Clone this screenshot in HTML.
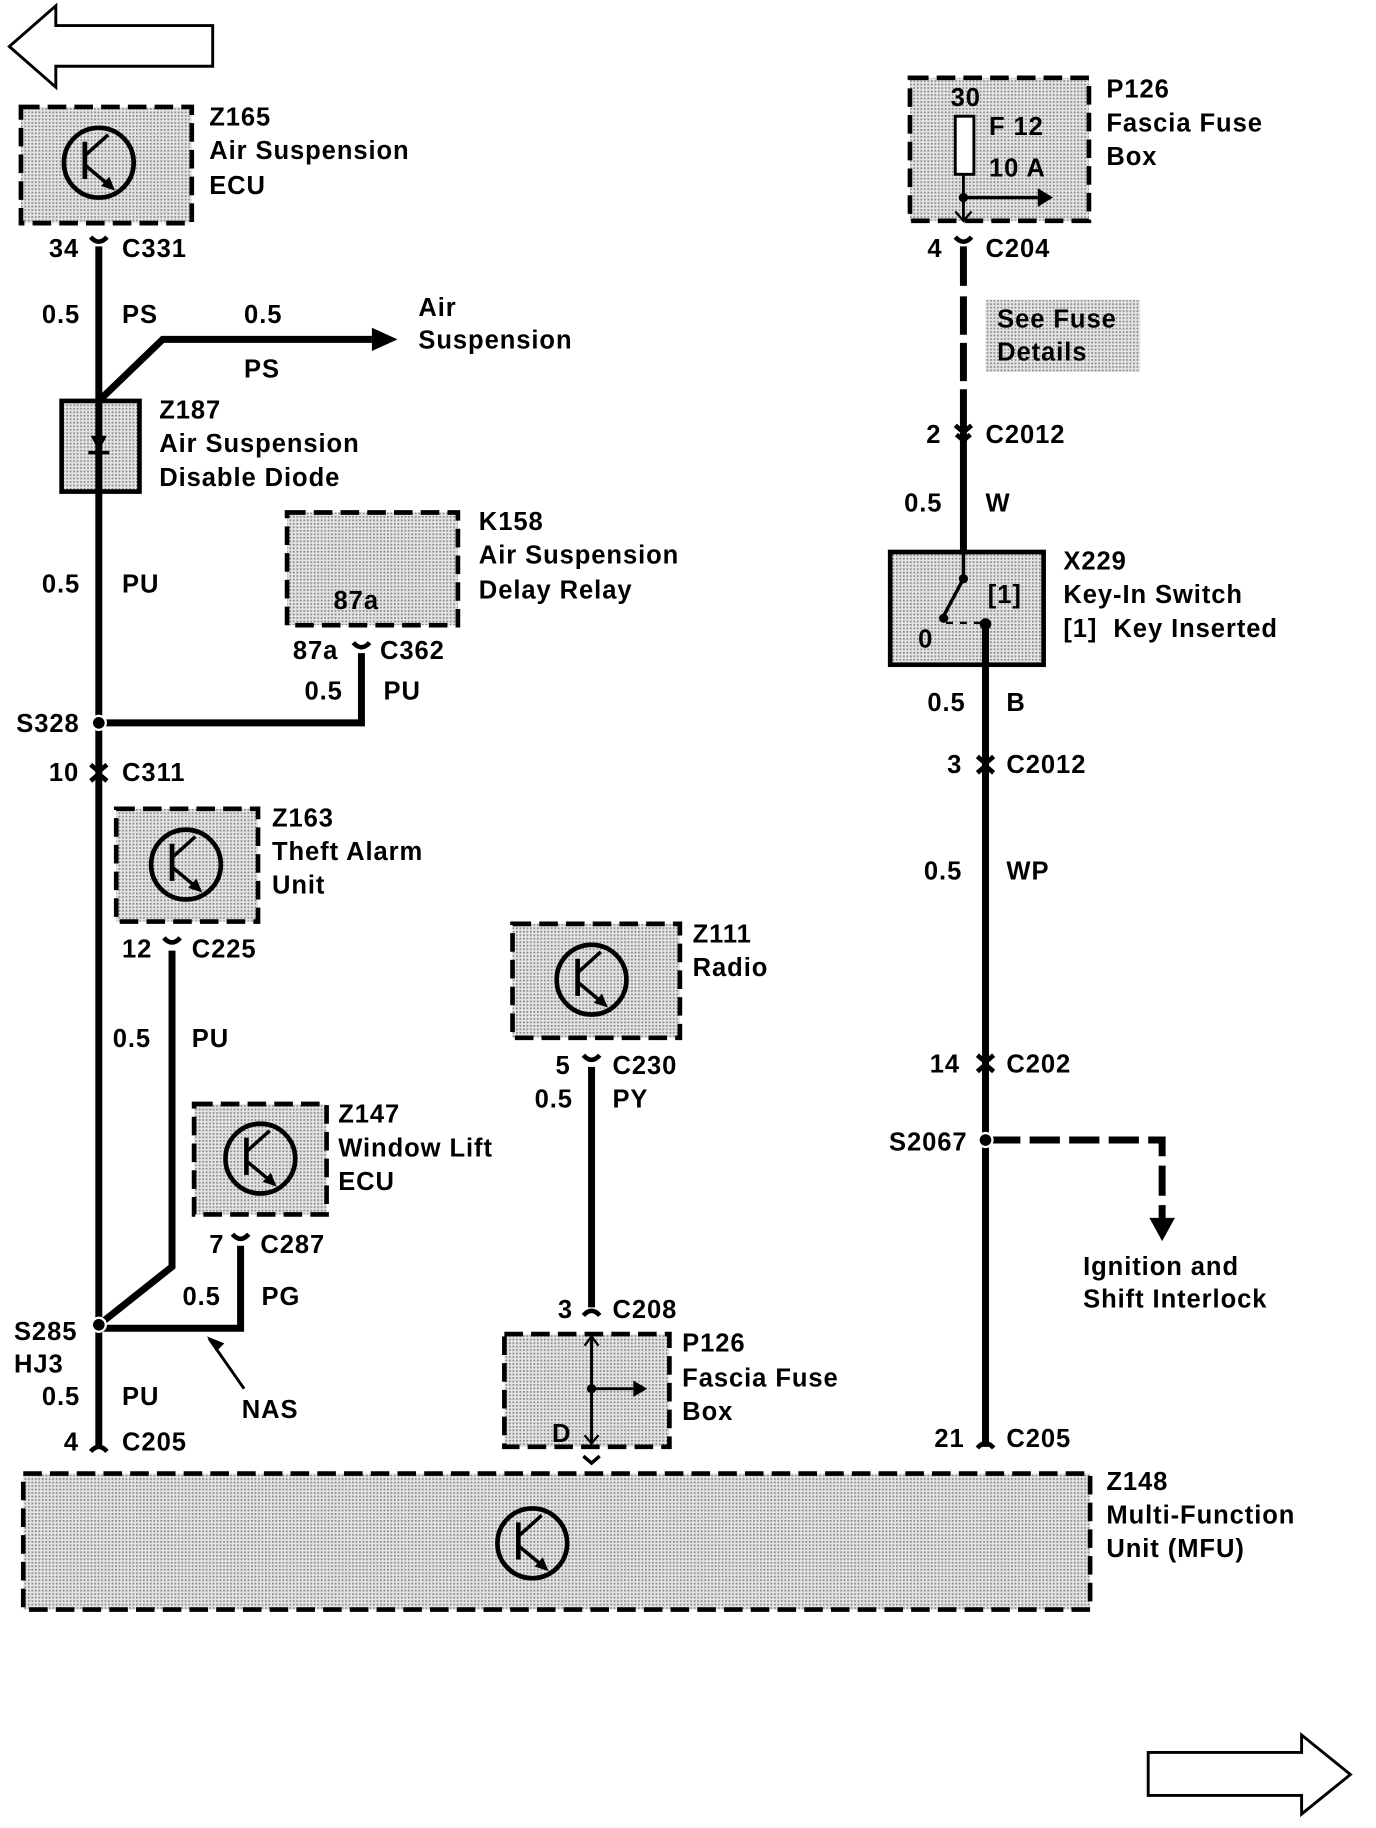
<!DOCTYPE html>
<html><head><meta charset="utf-8"><style>
html,body{margin:0;padding:0;background:#fff;}
svg{display:block;}
text{font-family:"Liberation Sans",Arial,sans-serif;font-weight:bold;font-size:22px;letter-spacing:0.8px;fill:#000;}
</style></head><body>
<svg width="1376" height="1828" viewBox="0 0 1184 1573" xmlns="http://www.w3.org/2000/svg">
<defs>
<pattern id="st" width="3" height="3" patternUnits="userSpaceOnUse">
<rect width="3" height="3" fill="#e4e4e4"/><rect width="1.5" height="1.5" fill="#888"/>
</pattern>
<g id="tr"><circle r="30" fill="none" stroke="#000" stroke-width="4"/><line x1="-12" y1="-18" x2="-12" y2="14" stroke="#000" stroke-width="4"/><line x1="-12" y1="-6" x2="8" y2="-24" stroke="#000" stroke-width="3"/><line x1="-12" y1="2" x2="12" y2="22" stroke="#000" stroke-width="3"/><polygon points="14,24 2,20 9,12" fill="#000"/></g>
</defs>
<g fill="none" stroke="#000">
<polygon points="8,40 48,5 48,22 183,22 183,57 48,57 48,75" fill="#fff" stroke-width="2.5"/>
<polygon points="988,1508 1120,1508 1120,1493 1162,1527 1120,1561 1120,1545 988,1545" fill="#fff" stroke-width="2.5"/>
<g stroke-width="4" stroke-dasharray="16,7" fill="url(#st)">
<rect x="18" y="92" width="147" height="100"/>
<rect x="247" y="441" width="147" height="97"/>
<rect x="100" y="696" width="122" height="97"/>
<rect x="167" y="950" width="114" height="95"/>
<rect x="441" y="795" width="144" height="98"/>
<rect x="434" y="1148" width="142" height="97"/>
<rect x="20" y="1268" width="918" height="117"/>
<rect x="783" y="67" width="154" height="123"/>
</g>
<rect x="53" y="345" width="67" height="78" fill="url(#st)" stroke-width="4"/>
<rect x="766" y="475" width="132" height="97" fill="url(#st)" stroke-width="4"/>
<rect x="848" y="258" width="133" height="62" fill="url(#st)" stroke="none"/>
<g stroke-width="6">
<line x1="85" y1="212" x2="85" y2="1245"/>
<polyline points="85,345 140,292 320,292"/>
<polyline points="311,562 311,622 85,622"/>
<polyline points="148,818 148,1090 85,1140"/>
<polyline points="207,1072 207,1143 85,1143"/>
<line x1="509" y1="918" x2="509" y2="1125"/>
<line x1="829" y1="212" x2="829" y2="246"/>
<line x1="829" y1="255" x2="829" y2="288"/>
<line x1="829" y1="295" x2="829" y2="328"/>
<line x1="829" y1="335" x2="829" y2="477"/>
<line x1="848" y1="537" x2="848" y2="1245"/>
<polyline points="852,981 1000,981 1000,1050" stroke-dasharray="26,8"/>
</g>
<line x1="85" y1="345" x2="85" y2="423" stroke-width="2"/>
<line x1="210" y1="1195" x2="180" y2="1152" stroke-width="2.5"/>
<rect x="822" y="100" width="16" height="50" fill="#fff" stroke-width="2.5"/>
<line x1="829" y1="150" x2="829" y2="190" stroke-width="2.5"/>
<line x1="829" y1="170" x2="893" y2="170" stroke-width="3"/>
<polyline points="822,182 829,190 836,182" stroke-width="2"/>
<line x1="509" y1="1150" x2="509" y2="1242" stroke-width="2.5"/>
<line x1="509" y1="1195" x2="545" y2="1195" stroke-width="2.5"/>
<polyline points="503,1158 509,1150 515,1158" stroke-width="2"/>
<polyline points="503,1235 509,1242 515,1235" stroke-width="2"/>
<polyline points="502,1253 509,1259 516,1253" stroke-width="3"/>
<line x1="829" y1="477" x2="829" y2="498" stroke-width="3"/>
<line x1="829" y1="498" x2="812" y2="530" stroke-width="3"/>
<line x1="814" y1="536" x2="848" y2="536" stroke-width="2" stroke-dasharray="6,6"/>
</g>
<g fill="#000">
<polygon points="320,282 342,292 320,302"/>
<polygon points="78,375 92,375 85,388"/>
<rect x="76" y="388" width="18" height="3"/>
<polygon points="893,162 906,170 893,178"/>
<polygon points="545,1188 557,1195 545,1202"/>
<polygon points="989,1048 1011,1048 1000,1068"/>
<polygon points="178,1150 193,1156 186,1163"/>
<circle cx="829" cy="170" r="4"/><circle cx="509" cy="1195" r="4"/>
<circle cx="829" cy="498" r="4"/><circle cx="812" cy="532" r="4"/><circle cx="848" cy="537" r="5"/>
<circle cx="85" cy="622" r="6" stroke="#fff" stroke-width="2"/>
<circle cx="85" cy="1140" r="6" stroke="#fff" stroke-width="2"/>
<circle cx="848" cy="981" r="6" stroke="#fff" stroke-width="2"/>
</g>
<g fill="none" stroke="#000" stroke-width="4">
<path d="M78,204 Q85,212 92,204"/><path d="M304,553 Q311,561 318,553"/>
<path d="M141,807 Q148,815 155,807"/><path d="M200,1062 Q207,1070 214,1062"/>
<path d="M502,908 Q509,916 516,908"/><path d="M822,204 Q829,212 836,204"/>
<path d="M78,658 L85,664 L92,658 M78,672 L85,666 L92,672"/>
<path d="M822,366 L829,372 L836,366 M823,374 L829,379 L835,374"/>
<path d="M841,651 L848,657 L855,651 M841,665 L848,659 L855,665"/>
<path d="M841,908 L848,914 L855,908 M841,922 L848,916 L855,922"/>
<path d="M78,1249 Q85,1241 92,1249"/><path d="M502,1132 Q509,1124 516,1132"/>
<path d="M841,1246 Q848,1238 855,1246"/>
</g>
<use href="#tr" x="85" y="140"/><use href="#tr" x="160" y="744"/><use href="#tr" x="224" y="997"/>
<use href="#tr" x="509" y="843"/><use href="#tr" x="458" y="1328"/>
<text x="180" y="108">Z165</text><text x="180" y="137">Air Suspension</text><text x="180" y="167">ECU</text>
<text x="42" y="221">34</text><text x="105" y="221">C331</text>
<text x="36" y="278">0.5</text><text x="105" y="278">PS</text>
<text x="210" y="278">0.5</text><text x="210" y="325">PS</text>
<text x="360" y="272">Air</text><text x="360" y="300">Suspension</text>
<text x="137" y="360">Z187</text><text x="137" y="389">Air Suspension</text><text x="137" y="418">Disable Diode</text>
<text x="36" y="510">0.5</text><text x="105" y="510">PU</text>
<text x="412" y="456">K158</text><text x="412" y="485">Air Suspension</text><text x="412" y="515">Delay Relay</text>
<text x="287" y="524">87a</text>
<text x="252" y="567">87a</text><text x="327" y="567">C362</text>
<text x="262" y="602">0.5</text><text x="330" y="602">PU</text>
<text x="14" y="630">S328</text>
<text x="42" y="672">10</text><text x="105" y="672">C311</text>
<text x="234" y="711">Z163</text><text x="234" y="740">Theft Alarm</text><text x="234" y="769">Unit</text>
<text x="105" y="824">12</text><text x="165" y="824">C225</text>
<text x="97" y="901">0.5</text><text x="165" y="901">PU</text>
<text x="291" y="966">Z147</text><text x="291" y="995">Window Lift</text><text x="291" y="1024">ECU</text>
<text x="180" y="1078">7</text><text x="224" y="1078">C287</text>
<text x="157" y="1123">0.5</text><text x="225" y="1123">PG</text>
<text x="12" y="1153">S285</text><text x="12" y="1181">HJ3</text>
<text x="36" y="1209">0.5</text><text x="105" y="1209">PU</text>
<text x="208" y="1220">NAS</text>
<text x="55" y="1248">4</text><text x="105" y="1248">C205</text>
<text x="596" y="811">Z111</text><text x="596" y="840">Radio</text>
<text x="478" y="924">5</text><text x="527" y="924">C230</text>
<text x="460" y="953">0.5</text><text x="527" y="953">PY</text>
<text x="480" y="1134">3</text><text x="527" y="1134">C208</text>
<text x="587" y="1163">P126</text><text x="587" y="1193">Fascia Fuse</text><text x="587" y="1222">Box</text>
<text x="475" y="1241">D</text>
<text x="952" y="1282">Z148</text><text x="952" y="1311">Multi-Function</text><text x="952" y="1340">Unit (MFU)</text>
<text x="818" y="91">30</text><text x="851" y="116">F 12</text><text x="851" y="152">10 A</text>
<text x="952" y="84">P126</text><text x="952" y="113">Fascia Fuse</text><text x="952" y="142">Box</text>
<text x="798" y="221">4</text><text x="848" y="221">C204</text>
<text x="858" y="282">See Fuse</text><text x="858" y="310">Details</text>
<text x="797" y="381">2</text><text x="848" y="381">C2012</text>
<text x="778" y="440">0.5</text><text x="848" y="440">W</text>
<text x="915" y="490">X229</text><text x="915" y="519">Key-In Switch</text><text x="915" y="548">[1]&#160;&#160;Key Inserted</text>
<text x="850" y="519">[1]</text><text x="790" y="557">0</text>
<text x="798" y="612">0.5</text><text x="866" y="612">B</text>
<text x="815" y="665">3</text><text x="866" y="665">C2012</text>
<text x="795" y="757">0.5</text><text x="866" y="757">WP</text>
<text x="800" y="923">14</text><text x="866" y="923">C202</text>
<text x="765" y="990">S2067</text>
<text x="932" y="1097">Ignition and</text><text x="932" y="1125">Shift Interlock</text>
<text x="804" y="1245">21</text><text x="866" y="1245">C205</text>
</svg>
</body></html>
